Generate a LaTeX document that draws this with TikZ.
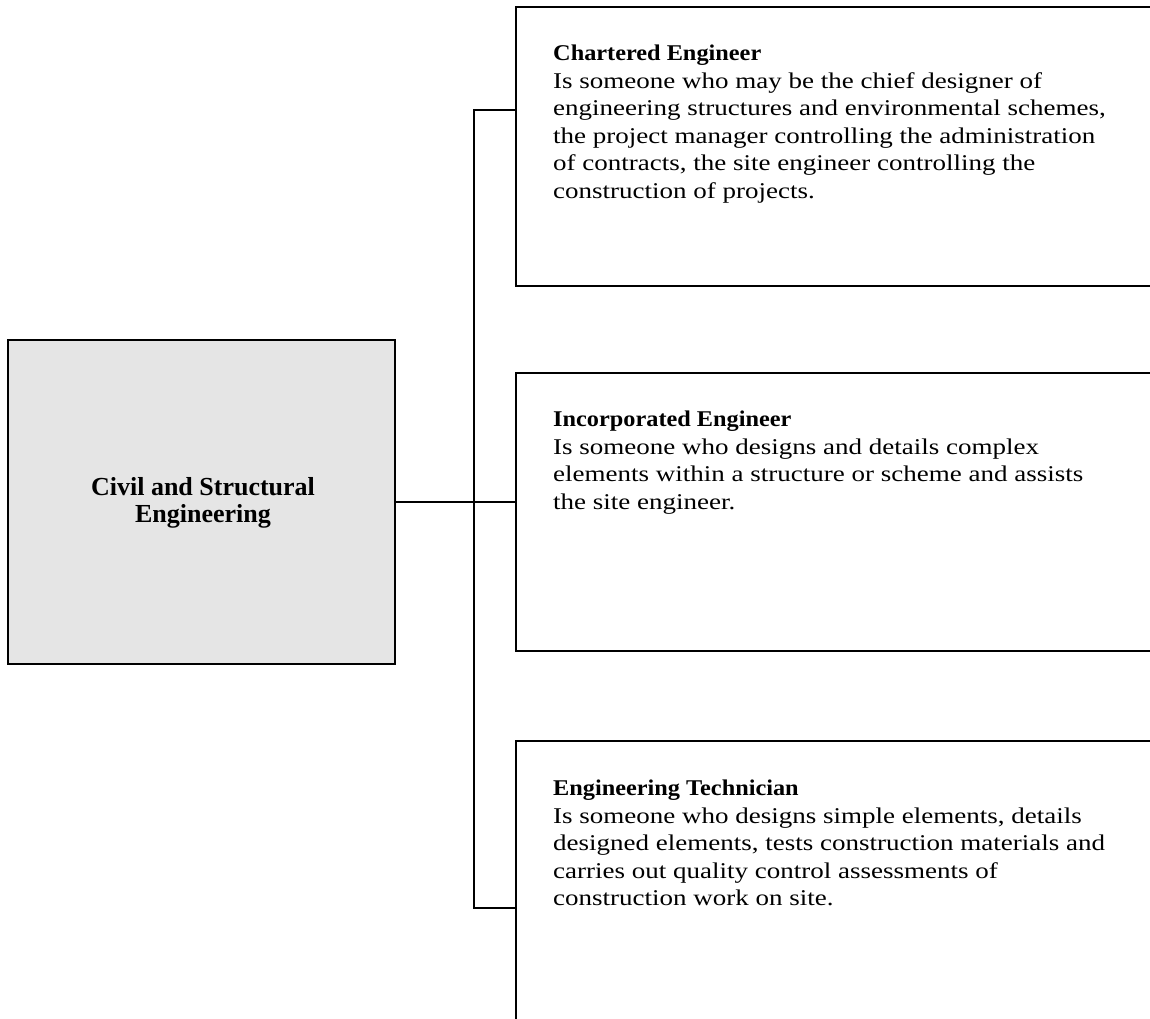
\documentclass[tikz,border=0pt]{standalone}
\usepackage{fontspec}
\setmainfont{Liberation Serif}
\newfontfamily\bodyfont[FakeStretch=1.2]{Liberation Serif}
\newfontfamily\titlefont[FakeStretch=1.08]{Liberation Serif}
\newcommand{\ttl}[1]{{\titlefont\bfseries #1}}
\begin{document}
\begin{tikzpicture}[x=1pt,y=-1pt,
  frame/.style={draw=black,line width=2.6pt},
  conn/.style={draw=black,line width=2.2pt},
  body/.style={anchor=north west,inner sep=0pt,align=left,font=\bodyfont\fontsize{22.5}{27.5}\selectfont}]
\useasboundingbox (0,0) rectangle (1150,1018);
\clip (0,0) rectangle (1150,1018);
% left box
\draw[frame,fill=black!10] (8,340) rectangle (395,664);
\node[anchor=north,inner sep=0pt,align=center,font=\fontsize{26}{27}\selectfont\bfseries] (root) at (203,477) {Civil and Structural\\Engineering};
\coordinate (rootE) at (395,502);
% right boxes
\draw[frame] (1170,7) -- (516,7) -- (516,286) -- (1170,286);
\draw[frame] (1170,373) -- (516,373) -- (516,651) -- (1170,651);
\draw[frame] (1170,741) -- (516,741) -- (516,1040);
\coordinate (b1) at (516,110);
\coordinate (b2) at (516,502);
\coordinate (b3) at (516,908);
\coordinate (j1) at (474,110);
\coordinate (j2) at (474,502);
\coordinate (j3) at (474,908);
% connectors
\draw[conn] (rootE) -- (b2);
\draw[conn] (b1) -- (j1) -- (j3) -- (b3);
% texts
\node[body] (t1) at (553,45) {\ttl{Chartered Engineer}\\Is someone who may be the chief designer of\\engineering structures and environmental schemes,\\the project manager controlling the administration\\of contracts, the site engineer controlling the\\construction of projects.};
\node[body] (t2) at (553,411) {\ttl{Incorporated Engineer}\\Is someone who designs and details complex\\elements within a structure or scheme and assists\\the site engineer.};
\node[body] (t3) at (553,780) {\ttl{Engineering Technician}\\Is someone who designs simple elements, details\\designed elements, tests construction materials and\\carries out quality control assessments of\\construction work on site.};
\end{tikzpicture}
\end{document}
